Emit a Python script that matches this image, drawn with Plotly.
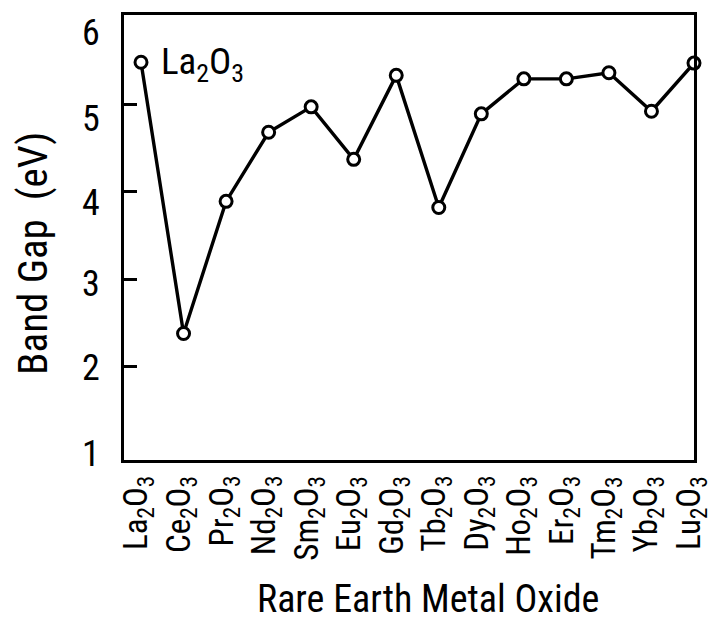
import plotly.graph_objects as go

# Band gap of the rare earth sesquioxides
oxides = ["La", "Ce", "Pr", "Nd", "Sm", "Eu", "Gd", "Tb", "Dy", "Ho", "Er", "Tm", "Yb", "Lu"]
band_gap = [5.48, 2.38, 3.89, 4.68, 4.97, 4.37, 5.33, 3.82, 4.89, 5.29, 5.29, 5.36, 4.92, 5.47]
y_tick_values = [1, 2, 3, 4, 5, 6]
y_tick_marks = [2, 3, 4, 5]

labels = [f"{el}<sub>2</sub>O<sub>3</sub>" for el in oxides]
x = list(range(len(oxides)))

FONT = "Roboto Condensed"
BLACK = "black"

fig = go.Figure()
fig.add_trace(go.Scatter(
    x=x, y=band_gap, mode="lines+markers",
    line=dict(color=BLACK, width=3.4),
    marker=dict(symbol="circle", size=12, color="white",
                line=dict(color=BLACK, width=3)),
    cliponaxis=False, showlegend=False,
))

# label next to the first point
fig.add_annotation(
    x=x[0], y=band_gap[0], text=labels[0], showarrow=False,
    xanchor="left", yanchor="middle", xshift=18, yshift=-2,
    font=dict(family=FONT, size=37, color=BLACK),
)

# category labels, written upward below the frame
for xi, lab in zip(x, labels):
    fig.add_annotation(
        x=xi, xref="x", yref="paper", y=0, text=lab, showarrow=False,
        textangle=-90, xanchor="center", yanchor="top", yshift=-14, xshift=-3,
        font=dict(family=FONT, size=33, color=BLACK),
    )

# y tick labels, nudged downward toward the top of the scale
label_drop = {1: 0, 2: -1, 3: -5, 4: -11, 5: -15, 6: -16}
for v in y_tick_values:
    fig.add_annotation(
        xref="paper", x=-0.039, y=v, text=str(v), showarrow=False,
        xanchor="right", yanchor="middle", yshift=label_drop[v],
        font=dict(family=FONT, size=36, color=BLACK),
    )

# axis titles
fig.add_annotation(
    xref="paper", yref="paper", x=0.533, y=-0.312, text="Rare Earth Metal Oxide",
    showarrow=False, xanchor="center", yanchor="middle",
    font=dict(family=FONT, size=38, color=BLACK),
)
fig.add_annotation(
    xref="paper", yref="paper", x=-0.16, y=0.465, text="Band Gap  (eV)",
    showarrow=False, xanchor="center", yanchor="middle", textangle=-90,
    font=dict(family=FONT, size=41, color=BLACK),
)

fig.update_layout(
    width=713, height=621,
    margin=dict(l=124, r=19, t=15, b=161),
    paper_bgcolor="white", plot_bgcolor="white",
    font=dict(family=FONT, color=BLACK),
)

fig.update_xaxes(
    range=[-0.4, len(oxides) - 1],
    tickvals=x, showticklabels=False, ticks="",
    showgrid=False, zeroline=False, automargin=False,
    showline=True, linecolor=BLACK, linewidth=3, mirror=True,
)

fig.update_yaxes(
    range=[0.934, 6.02],
    tickvals=y_tick_marks, showticklabels=False,
    ticks="inside", ticklen=13, tickwidth=3, tickcolor=BLACK,
    showgrid=False, zeroline=False, automargin=False,
    showline=True, linecolor=BLACK, linewidth=3, mirror=True,
)

fig.write_html("out.html")
